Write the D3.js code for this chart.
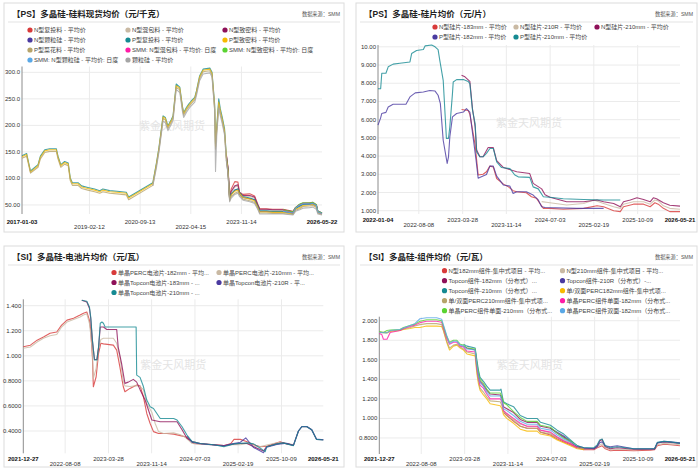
<!DOCTYPE html>
<html>
<head>
<meta charset="utf-8">
<script src="https://cdn.jsdelivr.net/npm/d3@7"></script>
<style>
    body { margin: 0; background: #fff; }
    svg text { font-family: "Liberation Sans", Arial, "Noto Sans CJK SC", sans-serif; }
</style>
</head>
<body>
<div id="chart"></div>
<script>

/* * * * * * * * * * * * * *
* * * * * * * * * * * * * */

// [PS] silicon material, yuan/kg
let psTicksX = ["2017-01-03", "2019-02-12", "2020-09-13", "2022-04-15", "2023-11-14", "2026-05-22"];
let psTicksY = [50, 100, 150, 200, 250, 300];
let psNames = ["N型复投料 - 平均价", "N型混包料 - 平均价", "N型致密料 - 平均价", "N型颗粒硅 - 平均价",
    "P型复投料 - 平均价", "P型致密料 - 平均价", "P型菜花料 - 平均价", "SMM: N型混包料 - 平均价: 日度",
    "SMM: N型致密料 - 平均价: 日度", "SMM: N型颗粒硅 - 平均价: 日度", "颗粒硅 - 平均价"];

let psDatesLong = ["2017-01-03","2017-02-25","2017-04-10","2017-07-05","2017-08-01","2017-09-20","2017-11-15",
    "2018-01-30","2018-02-18","2018-03-22","2018-05-05","2018-06-15","2018-07-08","2018-08-01","2018-10-05",
    "2018-11-15","2019-01-25","2019-04-12","2019-06-10","2019-07-15","2019-10-01","2020-01-22","2020-04-08",
    "2020-05-05","2021-02-05","2021-03-18","2021-04-16","2021-06-02","2021-06-28","2021-07-27","2021-09-05",
    "2021-09-24","2021-10-30","2021-12-10","2022-01-08","2022-01-23","2022-02-25","2022-03-22","2022-04-20",
    "2022-05-30","2022-06-18","2022-07-24","2022-09-02","2022-11-18","2022-12-13","2023-01-12","2023-01-22",
    "2023-02-06","2023-02-28","2023-03-18","2023-04-08","2023-05-05","2023-05-26","2023-06-14","2023-07-02",
    "2023-07-20","2023-08-30","2023-10-05","2023-10-23","2023-12-02","2024-02-17","2024-04-12","2024-05-18",
    "2024-06-10","2024-08-25","2024-11-06","2025-03-03","2025-06-25","2025-07-24","2025-09-10","2025-10-16",
    "2026-01-01","2026-02-06","2026-03-18","2026-04-05","2026-05-22"];
// value arrays shorter than the date list line up with its END
let psPFutou = [143,147,114,126,142,154,156,156,142,126,132,129,101,92,92,86,83,80,77,80,77,75.5,74,65,92,129,158,
    218,215,199,211,218,278,272,237,224,234,240,246,253,265,293,306,308,300,240,165,200,250,231,216,194,142,117,
    62,71,78,80,74,66,63,60,48,39,39,38,38,35,44,47,51,52,53,49,38,35];
let psPZhimi = [141,145,112,124,140,152,154,154,140,124,130,127,99,90,90,84,81,78,75,78,75,73.5,72,63,90,127,156,
    216,213,197,209,216,275,270,235,222,232,238,244,251,263,291,304,306,298,235,160,196,244,227,212,190,139,114,
    60,69,76,78,72,64,61,58,46,37,37,36,36,33,42,45,49,50,51,47,36,33];
let psPCaihua = [138,142,110,121,137,149,151,151,137,121,127,124,96,87,87,81,78,75,72,75,72,70.5,69,60,87,124,153,
    213,210,194,206,213,272,267,232,219,229,235,241,248,260,288,301,303,295,230,155,190,238,223,208,186,136,111,
    58,66,72,75,69,61,58,55,44,35,35,34,34,32,40,43,47,48,49,45,35,32];
let psKeli = [86,120,150,208,205,190,202,209,268,262,228,215,225,231,237,244,256,284,297,299,291,228,113,185,232,
    218,204,182,132,108,56,63,70,72,66,59,56,53,42,33,33,33,33,31,38,41,44,45,46,42,33,31];
let psNFutou = [145,120,66,80,94,93,74,70,71,67,52,43,43,42,42,38,45,51,53,53,54,50,38,35];
let psNHunbao = [140,116,62,74,84,86,72,67,66,63,49,41,41,40,40,36,44,50,52,52,53,49,37,34];
let psNZhimi = [143,118,64,76,86,88,73,68,68,65,50,42,42,41,41,37,45,51,53,53,54,50,38,35];
let psNKeli = [135,110,60,70,78,80,70,64,62,60,48,38,38,37,37,34,43,49,51,51,52,48,36,34];
let psSmmHunbao = [40,36,45,51,53,54,55,50,38,34];
let psSmmZhimi = [41,37,45,52,54,54,55,51,38,35];
let psSmmKeli = [38,35,44,50,52,52,53,49,37,34];

// [PS] wafers, yuan/piece
let wfTicksX = ["2022-01-04", "2022-08-08", "2023-03-28", "2023-11-14", "2024-07-03", "2025-02-19", "2025-10-09", "2026-05-21"];
let wfTicksY = [1, 2, 3, 4, 5, 6, 7, 8, 9, 10];
let wfNames = ["N型硅片-183mm - 平均价", "N型硅片-210R - 平均价", "N型硅片-210mm - 平均价",
    "P型硅片-182mm - 平均价", "P型硅片-210mm - 平均价"];
let wfN183 = [["2023-03-22",6.56],["2023-04-26",6.5],["2023-05-05",6.3],["2023-06-02",4.6],["2023-06-18",2.96],
    ["2023-07-14",3.0],["2023-08-01",3.14],["2023-08-19",3.45],["2023-09-06",3.4],["2023-09-24",2.77],
    ["2023-10-30",2.46],["2023-11-25",2.31],["2023-12-20",2.1],["2024-01-08",2.04],["2024-02-28",1.99],
    ["2024-03-26",1.77],["2024-04-22",1.68],["2024-05-10",1.4],["2024-05-28",1.13],["2024-07-02",1.13],
    ["2024-09-10",1.08],["2024-12-27",1.13],["2025-03-08",1.27],["2025-04-12",1.22],["2025-06-04",1.0],
    ["2025-07-09",0.95],["2025-07-26",1.22],["2025-09-17",1.36],["2025-11-09",1.36],["2025-12-14",1.22],
    ["2026-01-08",1.44],["2026-01-26",1.36],["2026-02-22",1.13],["2026-03-28",0.95],["2026-05-21",0.95]];
let wfN210R = [["2024-05-19",1.5],["2024-07-02",1.44],["2024-09-28",1.31],["2024-12-27",1.4],["2025-02-18",1.59],
    ["2025-04-12",1.4],["2025-06-04",1.22],["2025-07-09",1.13],["2025-07-26",1.36],["2025-09-17",1.49],
    ["2025-11-09",1.49],["2025-12-14",1.36],["2026-01-08",1.59],["2026-01-26",1.54],["2026-02-22",1.27],
    ["2026-03-28",1.13],["2026-05-21",1.08]];
let wfN210 = [["2023-03-22",8.44],["2023-04-09",8.35],["2023-05-05",8.1],["2023-05-19",6.6],["2023-06-02",5.6],
    ["2023-06-10",4.33],["2023-06-27",3.96],["2023-07-14",3.96],["2023-08-10",4.47],["2023-09-06",4.47],
    ["2023-09-24",3.75],["2023-10-30",3.37],["2024-01-08",3.14],["2024-03-17",3.04],["2024-04-04",2.5],
    ["2024-05-19",2.2],["2024-06-06",1.88],["2024-07-02",1.74],["2024-09-28",1.49],["2024-12-27",1.49],
    ["2025-03-08",1.59],["2025-04-12",1.49],["2025-06-04",1.4],["2025-07-09",1.22],["2025-07-26",1.49],
    ["2025-08-31",1.59],["2025-10-05",1.71],["2025-11-09",1.62],["2025-12-14",1.49],["2025-12-31",1.71],
    ["2026-01-17",1.66],["2026-02-22",1.44],["2026-03-28",1.3],["2026-05-21",1.25]];
let wfP182 = [["2022-01-04",5.7],["2022-01-18",6.1],["2022-01-24",6.34],["2022-02-15",6.4],["2022-02-27",6.7],
    ["2022-03-25",6.85],["2022-06-01",6.85],["2022-06-22",7.25],["2022-07-20",7.47],["2022-09-01",7.52],
    ["2022-10-05",7.6],["2022-11-02",7.57],["2022-11-18",7.34],["2022-11-30",6.88],["2022-12-15",4.87],
    ["2023-01-05",3.6],["2023-01-12",3.96],["2023-01-19",5.05],["2023-02-02",6.15],["2023-02-24",6.34],
    ["2023-04-01",6.42],["2023-04-17",6.61],["2023-05-05",6.42],["2023-05-22",5.05],["2023-06-07",3.78],
    ["2023-06-18",2.78],["2023-07-05",2.86],["2023-08-01",2.99],["2023-08-19",3.45],["2023-09-06",3.45],
    ["2023-09-24",2.9],["2023-10-30",2.41],["2023-12-03",2.35],["2023-12-20",1.95],["2024-01-08",2.04],
    ["2024-02-28",2.04],["2024-04-04",1.86],["2024-05-01",1.59],["2024-05-19",1.22],["2024-06-06",1.18],
    ["2024-11-21",1.13],["2025-04-12",1.13]];
let wfP210 = [["2022-01-04",7.7],["2022-01-18",7.7],["2022-01-24",8.55],["2022-02-15",8.55],["2022-02-27",8.9],
    ["2022-03-25",9.05],["2022-04-30",9.1],["2022-06-22",9.17],["2022-07-01",9.63],["2022-07-27",9.8],
    ["2022-09-01",9.85],["2022-09-10",10.05],["2022-10-15",10.1],["2022-11-02",10.0],["2022-11-18",9.85],
    ["2022-11-27",9.26],["2022-12-15",8.16],["2023-01-01",4.97],["2023-01-12",4.97],["2023-01-19",5.6],
    ["2023-02-02",7.43],["2023-02-06",8.07],["2023-02-24",8.2],["2023-04-01",8.2],["2023-04-26",8.1],
    ["2023-05-05",7.98],["2023-05-19",6.52],["2023-06-02",5.79],["2023-06-10",4.23],["2023-06-27",3.96],
    ["2023-07-14",3.96],["2023-08-01",4.15],["2023-08-19",4.42],["2023-09-06",4.42],["2023-09-24",3.68],
    ["2023-10-20",3.37],["2023-12-03",3.31],["2023-12-29",2.96],["2024-01-16",2.86],["2024-03-17",2.83],
    ["2024-04-04",2.31],["2024-05-01",2.2],["2024-05-28",1.77],["2024-07-02",1.74],["2024-09-10",1.66],
    ["2024-12-27",1.62],["2025-04-12",1.59],["2025-07-09",1.59]];

// [SI] cells, yuan/W
let ceTicksX = ["2021-12-27", "2022-08-08", "2023-03-28", "2023-11-14", "2024-07-03", "2025-02-19", "2025-10-09", "2026-05-21"];
let ceTicksY = [0.4, 0.6, 0.8, 1.0, 1.2, 1.4];
let ceNames = ["单晶PERC电池片-182mm - 平均...", "单晶PERC电池片-210mm - 平均...", "单晶Topcon电池片-183mm - ...",
    "单晶Topcon电池片-210R - 平...", "单晶Topcon电池片-210mm - ..."];
let cePerc182 = [["2021-12-27",1.072],["2022-02-03",1.085],["2022-03-11",1.125],["2022-04-14",1.15],["2022-05-19",1.18],
    ["2022-06-24",1.19],["2022-07-20",1.245],["2022-08-18",1.285],["2022-09-22",1.3],["2022-10-27",1.325],
    ["2022-11-14",1.34],["2022-12-02",1.35],["2022-12-16",1.285],["2022-12-23",1.205],["2023-01-01",0.99],
    ["2023-01-06",0.753],["2023-01-21",0.833],["2023-02-03",1.02],["2023-02-15",1.1],["2023-03-01",1.095],
    ["2023-04-23",1.085],["2023-05-11",1.045],["2023-05-28",0.912],["2023-06-15",0.755],["2023-06-24",0.713],
    ["2023-07-21",0.74],["2023-08-26",0.767],["2023-09-13",0.76],["2023-10-01",0.673],["2023-10-19",0.54],
    ["2023-11-06",0.46],["2023-11-24",0.395],["2023-12-21",0.38],["2024-02-04",0.38],["2024-03-11",0.375],
    ["2024-04-16",0.363],["2024-05-21",0.35],["2024-06-26",0.3],["2024-08-01",0.297],["2024-10-12",0.29],
    ["2024-12-05",0.283],["2025-01-11",0.3],["2025-01-28",0.333],["2025-03-03",0.333],["2025-04-08",0.315],
    ["2025-05-13",0.29],["2025-06-18",0.275],["2025-07-22",0.278],["2025-08-27",0.297],["2025-10-02",0.315],
    ["2025-11-06",0.297],["2025-12-12",0.29]];
let cePerc210 = [["2021-12-27",1.06],["2022-02-03",1.07],["2022-03-11",1.11],["2022-04-14",1.14],["2022-05-19",1.16],
    ["2022-06-24",1.17],["2022-07-20",1.23],["2022-08-18",1.27],["2022-09-22",1.29],["2022-10-27",1.31],
    ["2022-11-14",1.325],["2022-12-02",1.335],["2022-12-16",1.26],["2022-12-23",1.17],["2023-01-01",1.02],
    ["2023-01-06",0.82],["2023-01-21",0.9],["2023-02-03",1.06],["2023-02-15",1.13],["2023-03-01",1.14],
    ["2023-04-23",1.14],["2023-05-11",1.1],["2023-05-28",0.99],["2023-06-15",0.8],["2023-06-24",0.76],
    ["2023-07-21",0.755],["2023-08-26",0.762],["2023-09-13",0.755],["2023-10-01",0.73],["2023-10-19",0.62],
    ["2023-11-15",0.55],["2023-12-03",0.46],["2023-12-21",0.395],["2024-01-17",0.38],["2024-03-11",0.385],
    ["2024-04-16",0.37],["2024-05-12",0.35],["2024-06-18",0.3],["2024-08-01",0.295],["2024-10-12",0.288],
    ["2024-12-05",0.283],["2025-01-11",0.29],["2025-03-03",0.29],["2025-04-08",0.3],["2025-05-13",0.28],
    ["2025-06-18",0.275],["2025-08-27",0.3],["2025-10-02",0.31],["2025-11-06",0.3],["2025-12-12",0.29]];
let ceTop183 = [["2022-11-05",1.444],["2022-12-02",1.43],["2022-12-16",1.38],["2022-12-23",1.3],["2023-01-01",1.12],
    ["2023-01-12",0.97],["2023-01-25",0.97],["2023-02-03",1.07],["2023-02-12",1.23],["2023-03-01",1.23],
    ["2023-03-19",1.21],["2023-05-11",1.21],["2023-05-19",1.07],["2023-06-06",0.94],["2023-06-24",0.78],
    ["2023-07-12",0.79],["2023-08-08",0.812],["2023-08-26",0.79],["2023-09-13",0.73],["2023-10-10",0.647],
    ["2023-11-15",0.488],["2023-12-30",0.474],["2024-03-29",0.474],["2024-04-25",0.41],["2024-05-21",0.342],
    ["2024-06-18",0.315],["2024-08-01",0.3],["2024-10-12",0.29],["2024-12-05",0.283],["2025-01-28",0.297],
    ["2025-03-03",0.3],["2025-04-08",0.3],["2025-05-13",0.275],["2025-07-05",0.24],["2025-07-22",0.275],
    ["2025-09-14",0.297],["2025-10-19",0.305],["2025-12-12",0.285],["2026-01-08",0.4],["2026-01-26",0.434],
    ["2026-02-22",0.434],["2026-03-20",0.41],["2026-04-15",0.333],["2026-05-21",0.33]];
let ceTop210R = [["2024-05-21",0.36],["2024-06-18",0.31],["2024-08-01",0.298],["2024-10-12",0.288],["2024-12-05",0.28],
    ["2025-01-11",0.295],["2025-03-03",0.31],["2025-04-01",0.345],["2025-04-20",0.31],["2025-05-13",0.268],
    ["2025-07-05",0.227],["2025-07-22",0.27],["2025-09-14",0.292],["2025-11-06",0.302],["2025-12-12",0.285],
    ["2026-01-08",0.4],["2026-01-26",0.436],["2026-02-22",0.436],["2026-03-20",0.41],["2026-04-15",0.335],
    ["2026-05-21",0.33]];
let ceTop210 = [["2022-11-05",1.444],["2022-12-02",1.435],["2022-12-16",1.39],["2022-12-23",1.31],["2023-01-01",1.125],
    ["2023-01-12",0.966],["2023-01-25",0.966],["2023-02-03",1.07],["2023-02-12",1.26],["2023-02-21",1.27],
    ["2023-03-01",1.26],["2023-03-10",1.23],["2023-08-23",1.23],["2023-08-26",0.846],["2023-09-13",0.828],
    ["2023-10-01",0.755],["2023-10-19",0.647],["2023-11-06",0.594],["2023-11-24",0.58],["2023-12-12",0.54],
    ["2023-12-30",0.5],["2024-03-11",0.5],["2024-03-29",0.488],["2024-04-25",0.434],["2024-05-21",0.368],
    ["2024-06-18",0.315],["2024-08-01",0.3],["2024-10-12",0.29],["2024-12-05",0.275],["2025-01-28",0.297],
    ["2025-04-08",0.305],["2025-05-13",0.297],["2025-06-18",0.262],["2025-07-14",0.235],["2025-07-22",0.275],
    ["2025-09-14",0.297],["2025-10-19",0.305],["2025-11-06",0.297],["2025-12-12",0.283],["2026-01-08",0.4],
    ["2026-01-26",0.434],["2026-02-22",0.434],["2026-03-20",0.41],["2026-04-15",0.333],["2026-05-21",0.328]];

// [SI] modules, yuan/W
let moTicksX = ceTicksX;
let moTicksY = [0.8, 1.0, 1.2, 1.4, 1.6, 1.8, 2.0];
let moNames = ["N型182mm组件-集中式项目 - 平均...", "N型210mm组件-集中式项目 - 平均...", "Topcon组件-182mm（分布式）...",
    "Topcon组件-210R（分布式）-...", "Topcon组件-210mm（分布式）...", "单/双面PERC182mm组件-集中式项...",
    "单/双面PERC210mm组件-集中式项...", "单晶PERC组件单面-182mm（分布式...", "单晶PERC组件单面-210mm（分布式...",
    "单晶PERC组件双面-182mm（分布式..."];
let moN182 = [["2023-10-21",1.06],["2023-11-08",1.03],["2023-12-14",0.97],["2024-01-19",0.92],["2024-02-24",0.9],
    ["2024-04-18",0.9],["2024-05-06",0.86],["2024-06-28",0.83],["2024-08-03",0.79],["2024-09-07",0.76],
    ["2024-10-13",0.73],["2024-11-18",0.7],["2024-12-24",0.68],["2025-02-15",0.68],["2025-03-05",0.7],
    ["2025-03-31",0.72],["2025-04-17",0.69],["2025-05-14",0.67],["2025-06-19",0.675],["2025-09-16",0.67],
    ["2025-12-15",0.675],["2026-01-05",0.68],["2026-01-20",0.72],["2026-02-24",0.735],["2026-03-31",0.73],
    ["2026-05-21",0.72]];
let moN210 = [["2023-10-21",1.08],["2023-11-08",1.05],["2023-12-14",0.99],["2024-01-19",0.94],["2024-02-24",0.92],
    ["2024-04-18",0.92],["2024-05-06",0.88],["2024-06-28",0.85],["2024-08-03",0.81],["2024-09-07",0.78],
    ["2024-10-13",0.75],["2024-11-18",0.71],["2024-12-24",0.69],["2025-02-15",0.69],["2025-03-05",0.71],
    ["2025-03-31",0.74],["2025-04-17",0.7],["2025-05-14",0.68],["2025-06-19",0.685],["2025-09-16",0.68],
    ["2025-12-15",0.685],["2026-01-05",0.69],["2026-01-20",0.73],["2026-02-24",0.745],["2026-03-31",0.74],
    ["2026-05-21",0.73]];
let moTop182 = [["2023-03-22",1.74],["2023-04-09",1.72],["2023-05-23",1.7],["2023-06-01",1.56],["2023-06-09",1.45],
    ["2023-06-18",1.38],["2023-07-06",1.34],["2023-07-24",1.29],["2023-08-11",1.25],["2023-10-04",1.24],
    ["2023-10-13",1.2],["2023-10-21",1.12],["2023-11-08",1.1],["2023-12-14",1.06],["2024-01-19",0.99],
    ["2024-02-24",0.96],["2024-04-18",0.96],["2024-05-06",0.92],["2024-06-28",0.9],["2024-08-03",0.85],
    ["2024-09-07",0.81],["2024-10-13",0.76],["2024-11-18",0.71],["2024-12-24",0.69],["2025-02-15",0.69],
    ["2025-03-05",0.72],["2025-03-18",0.77],["2025-03-31",0.785],["2025-04-17",0.71],["2025-05-14",0.69],
    ["2025-06-19",0.7],["2025-09-16",0.685],["2025-12-15",0.685],["2026-01-05",0.685],["2026-01-20",0.75],
    ["2026-02-24",0.76],["2026-03-31",0.755],["2026-05-21",0.745]];
let moTop210R = [["2024-06-28",0.9],["2024-08-03",0.86],["2024-09-07",0.82],["2024-10-13",0.77],["2024-11-18",0.72],
    ["2024-12-24",0.7],["2025-02-15",0.69],["2025-03-05",0.71],["2025-03-18",0.75],["2025-03-31",0.76],
    ["2025-04-17",0.72],["2025-05-14",0.71],["2025-06-19",0.72],["2025-09-16",0.69],["2025-12-15",0.69],
    ["2026-01-05",0.69],["2026-01-20",0.75],["2026-02-24",0.765],["2026-03-31",0.76],["2026-05-21",0.75]];
let moTop210 = [["2023-03-22",1.76],["2023-04-09",1.74],["2023-05-23",1.72],["2023-06-01",1.6],["2023-06-09",1.5],
    ["2023-06-18",1.42],["2023-07-06",1.38],["2023-07-24",1.33],["2023-08-11",1.29],["2023-10-04",1.29],
    ["2023-10-08",1.3],["2023-10-13",1.25],["2023-10-21",1.17],["2023-11-08",1.15],["2023-12-14",1.12],
    ["2024-01-19",1.03],["2024-02-24",1.0],["2024-04-18",1.0],["2024-05-06",0.96],["2024-06-28",0.93],
    ["2024-08-03",0.88],["2024-09-07",0.84],["2024-10-13",0.78],["2024-11-18",0.72],["2024-12-24",0.7],
    ["2025-02-15",0.7],["2025-03-05",0.73],["2025-03-18",0.78],["2025-03-31",0.79],["2025-04-17",0.72],
    ["2025-05-14",0.7],["2025-06-19",0.71],["2025-09-16",0.69],["2025-12-15",0.69],["2026-01-05",0.69],
    ["2026-01-20",0.755],["2026-02-24",0.765],["2026-03-31",0.76],["2026-05-21",0.745]];
let moPerc182Central = [["2021-12-27",1.88],["2022-02-06",1.875],["2022-02-23",1.89],["2022-04-17",1.9],["2022-05-05",1.91],
    ["2022-06-09",1.92],["2022-07-05",1.93],["2022-08-01",1.93],["2022-09-06",1.945],["2022-10-29",1.945],
    ["2022-11-25",1.94],["2022-12-04",1.9],["2022-12-22",1.78],["2023-01-06",1.7],["2023-01-27",1.74],
    ["2023-02-14",1.75],["2023-03-04",1.72],["2023-03-22",1.7],["2023-04-09",1.66],["2023-05-23",1.64],
    ["2023-06-01",1.46],["2023-06-09",1.36],["2023-06-18",1.29],["2023-07-06",1.24],["2023-07-24",1.2],
    ["2023-08-11",1.15],["2023-10-04",1.13],["2023-10-13",1.1],["2023-10-21",1.04],["2023-11-08",1.0],
    ["2023-12-14",0.95],["2024-01-19",0.89],["2024-02-24",0.87],["2024-04-18",0.87],["2024-05-06",0.84],
    ["2024-06-28",0.82],["2024-08-03",0.78],["2024-09-07",0.75],["2024-10-13",0.72],["2024-11-18",0.69],
    ["2024-12-24",0.68]];
let moPerc210Central = [["2021-12-27",1.885],["2022-02-06",1.88],["2022-02-23",1.895],["2022-04-17",1.905],["2022-05-05",1.915],
    ["2022-06-09",1.93],["2022-07-05",1.945],["2022-08-01",1.96],["2022-09-06",1.97],["2022-10-29",1.97],
    ["2022-11-25",1.96],["2022-12-04",1.91],["2022-12-22",1.79],["2023-01-06",1.72],["2023-01-27",1.75],
    ["2023-02-14",1.76],["2023-03-04",1.73],["2023-03-22",1.71],["2023-04-09",1.68],["2023-05-23",1.66],
    ["2023-06-01",1.49],["2023-06-09",1.39],["2023-06-18",1.31],["2023-07-06",1.27],["2023-07-24",1.22],
    ["2023-08-11",1.18],["2023-10-04",1.17],["2023-10-13",1.13],["2023-10-21",1.07],["2023-11-08",1.03],
    ["2023-12-14",0.98],["2024-01-19",0.92],["2024-02-24",0.9],["2024-04-18",0.9],["2024-05-06",0.86],
    ["2024-06-28",0.84],["2024-08-03",0.8],["2024-09-07",0.77],["2024-10-13",0.74],["2024-11-18",0.7],
    ["2024-12-24",0.69]];
let moPercS182 = [["2021-12-27",1.87],["2022-01-09",1.86],["2022-01-18",1.81],["2022-02-06",1.81],["2022-02-23",1.88],
    ["2022-04-17",1.9],["2022-05-05",1.92],["2022-06-09",1.94],["2022-07-05",1.955],["2022-08-01",1.98],
    ["2022-09-06",1.995],["2022-10-29",1.995],["2022-11-25",1.985],["2022-12-04",1.93],["2022-12-22",1.82],
    ["2023-01-06",1.76],["2023-01-27",1.78],["2023-02-14",1.78],["2023-03-04",1.74],["2023-03-22",1.73],
    ["2023-04-09",1.69],["2023-05-23",1.68],["2023-06-01",1.52],["2023-06-09",1.42],["2023-06-18",1.34],
    ["2023-07-06",1.31],["2023-07-24",1.25],["2023-08-11",1.2],["2023-10-04",1.2],["2023-10-13",1.17],
    ["2023-10-21",1.08],["2023-11-08",1.05],["2023-12-14",1.0],["2024-01-19",0.95],["2024-02-24",0.92],
    ["2024-04-18",0.92],["2024-05-06",0.88],["2024-06-28",0.86],["2024-08-03",0.81],["2024-09-07",0.77],
    ["2024-10-13",0.74],["2024-11-18",0.7]];
let moPercS210 = [["2021-12-27",1.89],["2022-01-18",1.88],["2022-02-06",1.9],["2022-02-23",1.905],["2022-04-17",1.91],
    ["2022-05-05",1.93],["2022-06-09",1.95],["2022-07-05",1.965],["2022-08-01",1.995],["2022-09-06",2.01],
    ["2022-10-29",2.01],["2022-11-25",2.0],["2022-12-04",1.95],["2022-12-22",1.84],["2023-01-06",1.78],
    ["2023-01-27",1.8],["2023-02-14",1.8],["2023-03-04",1.76],["2023-03-22",1.75],["2023-04-09",1.72],
    ["2023-05-23",1.71],["2023-06-01",1.57],["2023-06-09",1.48],["2023-06-18",1.4],["2023-07-06",1.36],
    ["2023-07-24",1.3],["2023-08-11",1.26],["2023-10-04",1.26],["2023-10-13",1.22],["2023-10-21",1.16],
    ["2023-11-08",1.14],["2023-12-14",1.07],["2024-01-19",1.01],["2024-02-24",0.97],["2024-04-18",0.97],
    ["2024-05-06",0.93],["2024-06-28",0.91],["2024-08-03",0.85],["2024-09-07",0.8],["2024-10-13",0.77],
    ["2024-11-18",0.72]];
let moPercD182 = [["2021-12-27",1.88],["2022-02-06",1.875],["2022-02-23",1.9],["2022-04-17",1.91],["2022-05-05",1.925],
    ["2022-06-09",1.95],["2022-07-05",1.97],["2022-08-01",2.02],["2022-09-06",2.03],["2022-10-29",2.03],
    ["2022-11-25",2.015],["2022-12-04",1.96],["2022-12-22",1.85],["2023-01-06",1.77],["2023-01-27",1.79],
    ["2023-02-14",1.79],["2023-03-04",1.75],["2023-03-22",1.74],["2023-04-09",1.71],["2023-05-23",1.7],
    ["2023-06-01",1.55],["2023-06-09",1.44],["2023-06-18",1.37],["2023-07-06",1.33],["2023-07-24",1.27],
    ["2023-08-11",1.23],["2023-10-04",1.23],["2023-10-13",1.18],["2023-10-21",1.1],["2023-11-08",1.08],
    ["2023-12-14",1.03],["2024-01-19",0.97],["2024-02-24",0.94],["2024-04-18",0.94],["2024-05-06",0.9],
    ["2024-06-28",0.88],["2024-08-03",0.83],["2024-09-07",0.79],["2024-10-13",0.76],["2024-11-18",0.72]];

let palette = {
    red: "#d83a3a", tan: "#c9b9a3", maroon: "#8e1058", indigo: "#4a3aa0", teal: "#158a92",
    gold: "#f7b900", khaki: "#b6a46a", magenta: "#ff1ca6", green: "#5ad332", sky: "#5aa8e6", gray: "#a5a5a5"
};

/* * * * * * * * * * * * * *
*           drawing            *
* * * * * * * * * * * * * */

let parseDate = d3.timeParse("%Y-%m-%d");
let fmtTick = d3.format(".4r");

// turn a short value list into [date, value] pairs aligned to the end of a date list
function alignEnd(dates, values) {
    let off = dates.length - values.length;
    return values.map((v, i) => [dates[off + i], v]);
}

let svg = d3.select("#chart").append("svg")
    .attr("width", 700)
    .attr("height", 469);

function drawPanel(p) {
    let g = svg.append("g");
    let b = p.box;

    // frame
    g.append("rect")
        .attr("x", b.x).attr("y", b.y)
        .attr("width", b.w).attr("height", b.h)
        .attr("fill", "#fff")
        .attr("stroke", "#dcdcdc");

    // title + source
    g.append("text")
        .attr("x", b.x + 8)
        .attr("y", b.y + 11)
        .attr("dominant-baseline", "central")
        .attr("font-family", "Noto Sans CJK SC")
        .attr("font-weight", "bold")
        .attr("font-size", 8.5)
        .attr("fill", "#222")
        .text(p.title);

    g.append("text")
        .attr("x", b.x + b.w - 4)
        .attr("y", b.y + 11)
        .attr("dominant-baseline", "central")
        .attr("text-anchor", "end")
        .attr("font-size", 5.2)
        .attr("fill", "#555")
        .text("数据来源：SMM");

    g.append("line")
        .attr("x1", b.x + 4).attr("x2", b.x + b.w - 4)
        .attr("y1", b.y + 19).attr("y2", b.y + 19)
        .attr("stroke", "#e3e3e3");

    // scales
    let x = d3.scaleTime()
        .domain([parseDate(p.ticksX[0]), parseDate(p.ticksX[p.ticksX.length - 1])])
        .range([p.plot.left, p.plot.right]);
    let y = d3.scaleLinear()
        .domain(p.yDomain)
        .range([p.plot.bottom, p.plot.top]);

    // grid
    g.selectAll(".hgrid")
        .data(p.ticksY)
        .enter().append("line")
        .attr("x1", p.plot.left).attr("x2", p.plot.right)
        .attr("y1", d => y(d)).attr("y2", d => y(d))
        .attr("stroke", "#ebebeb");

    g.selectAll(".vgrid")
        .data(p.ticksX.slice(1, -1))
        .enter().append("line")
        .attr("x1", d => x(parseDate(d))).attr("x2", d => x(parseDate(d)))
        .attr("y1", p.plot.top).attr("y2", p.plot.bottom)
        .attr("stroke", "#ebebeb");

    // y labels
    g.selectAll(".ylab")
        .data(p.ticksY)
        .enter().append("text")
        .attr("x", p.plot.left - 2)
        .attr("y", d => y(d))
        .attr("dominant-baseline", "central")
        .attr("text-anchor", "end")
        .attr("font-size", 6)
        .attr("fill", "#333")
        .text(d => fmtTick(d));

    // x labels, staggered on two rows, ends in bold
    let last = p.ticksX.length - 1;
    g.selectAll(".xlab")
        .data(p.ticksX)
        .enter().append("text")
        .attr("x", d => x(parseDate(d)))
        .attr("y", (d, i) => (i % 2 === 1 && i !== last) ? p.xRows[1] : p.xRows[0])
        .attr("dominant-baseline", "central")
        .attr("text-anchor", "middle")
        .attr("font-size", 6)
        .attr("font-weight", (d, i) => (i === 0 || i === last) ? "bold" : "normal")
        .attr("fill", (d, i) => (i === 0 || i === last) ? "#111" : "#333")
        .text(d => d);

    // axis line
    g.append("line")
        .attr("x1", p.plot.left).attr("x2", p.plot.left)
        .attr("y1", p.plot.top).attr("y2", p.plot.bottom)
        .attr("stroke", "#8c8c8c");

    // watermark
    g.append("text")
        .attr("x", (p.plot.left + p.plot.right) / 2)
        .attr("y", p.markY)
        .attr("dominant-baseline", "central")
        .attr("text-anchor", "middle")
        .attr("font-family", "Noto Sans CJK SC")
        .attr("font-size", 11)
        .attr("fill", "#e4e4e4")
        .text("紫金天风期货");

    // lines
    let line = d3.line()
        .x(d => x(parseDate(d[0])))
        .y(d => y(d[1]));

    g.selectAll(".series")
        .data(p.series)
        .enter().append("path")
        .attr("fill", "none")
        .attr("stroke", d => d.color)
        .attr("stroke-width", 1.1)
        .attr("stroke-opacity", 0.8)
        .attr("stroke-linejoin", "round")
        .attr("d", d => line(d.data));

    // legend
    let items = g.selectAll(".legend")
        .data(p.series)
        .enter().append("g")
        .attr("transform", (d, i) => "translate(" + p.legend.cols[i % p.legend.cols.length] + ","
            + (p.legend.top + Math.floor(i / p.legend.cols.length) * 10) + ")");

    items.append("circle")
        .attr("r", 2.6)
        .attr("fill", d => d.color);

    items.append("text")
        .attr("x", 4)
        .attr("dominant-baseline", "central")
        .attr("font-size", 6)
        .attr("fill", "#444")
        .text(d => d.name);
}

drawPanel({
    box: {x: 4, y: 3, w: 340, h: 229},
    title: "【PS】多晶硅-硅料现货均价（元/千克）",
    plot: {left: 22, right: 322, top: 66.5, bottom: 214},
    yDomain: [33, 311],
    ticksX: psTicksX, ticksY: psTicksY,
    xRows: [221.5, 226.5],
    markY: 126,
    legend: {cols: [30, 128, 225], top: 30},
    series: [
        {name: psNames[0], color: palette.red, data: alignEnd(psDatesLong, psNFutou)},
        {name: psNames[1], color: palette.tan, data: alignEnd(psDatesLong, psNHunbao)},
        {name: psNames[2], color: palette.maroon, data: alignEnd(psDatesLong, psNZhimi)},
        {name: psNames[3], color: palette.indigo, data: alignEnd(psDatesLong, psNKeli)},
        {name: psNames[4], color: palette.teal, data: alignEnd(psDatesLong, psPFutou)},
        {name: psNames[5], color: palette.gold, data: alignEnd(psDatesLong, psPZhimi)},
        {name: psNames[6], color: palette.khaki, data: alignEnd(psDatesLong, psPCaihua)},
        {name: psNames[7], color: palette.magenta, data: alignEnd(psDatesLong, psSmmHunbao)},
        {name: psNames[8], color: palette.green, data: alignEnd(psDatesLong, psSmmZhimi)},
        {name: psNames[9], color: palette.sky, data: alignEnd(psDatesLong, psSmmKeli)},
        {name: psNames[10], color: palette.gray, data: alignEnd(psDatesLong, psKeli)}
    ]
});

drawPanel({
    box: {x: 356, y: 3, w: 341, h: 229},
    title: "【PS】多晶硅-硅片均价（元/片）",
    plot: {left: 378, right: 680, top: 45, bottom: 214},
    yDomain: [0.82, 10.1],
    ticksX: wfTicksX, ticksY: wfTicksY,
    xRows: [219.5, 224.5],
    markY: 123,
    legend: {cols: [435, 516, 597], top: 27},
    series: [
        {name: wfNames[0], color: palette.red, data: wfN183},
        {name: wfNames[1], color: palette.tan, data: wfN210R},
        {name: wfNames[2], color: palette.maroon, data: wfN210},
        {name: wfNames[3], color: palette.indigo, data: wfP182},
        {name: wfNames[4], color: palette.teal, data: wfP210}
    ]
});

drawPanel({
    box: {x: 4, y: 246, w: 340, h: 221},
    title: "【SI】多晶硅-电池片均价（元/瓦）",
    plot: {left: 23.3, right: 323.3, top: 299.3, bottom: 453.3},
    yDomain: [0.222, 1.451],
    ticksX: ceTicksX, ticksY: ceTicksY,
    xRows: [459, 464.3],
    markY: 365,
    legend: {cols: [114, 219], top: 272.5},
    series: [
        {name: ceNames[0], color: palette.red, data: cePerc182},
        {name: ceNames[1], color: palette.tan, data: cePerc210},
        {name: ceNames[2], color: palette.maroon, data: ceTop183},
        {name: ceNames[3], color: palette.indigo, data: ceTop210R},
        {name: ceNames[4], color: palette.teal, data: ceTop210}
    ]
});

drawPanel({
    box: {x: 356, y: 246, w: 341, h: 221},
    title: "【SI】多晶硅-组件均价（元/瓦）",
    plot: {left: 379.3, right: 680, top: 316.7, bottom: 454},
    yDomain: [0.636, 2.041],
    ticksX: moTicksX, ticksY: moTicksY,
    xRows: [459.3, 464.3],
    markY: 365,
    legend: {cols: [444.5, 562.5], top: 270.7},
    series: [
        {name: moNames[0], color: palette.red, data: moN182},
        {name: moNames[1], color: palette.tan, data: moN210},
        {name: moNames[2], color: palette.maroon, data: moTop182},
        {name: moNames[3], color: palette.indigo, data: moTop210R},
        {name: moNames[4], color: palette.teal, data: moTop210},
        {name: moNames[5], color: palette.gold, data: moPerc182Central},
        {name: moNames[6], color: palette.khaki, data: moPerc210Central},
        {name: moNames[7], color: palette.magenta, data: moPercS182},
        {name: moNames[8], color: palette.green, data: moPercS210},
        {name: moNames[9], color: palette.sky, data: moPercD182}
    ]
});

</script>
</body>
</html>
